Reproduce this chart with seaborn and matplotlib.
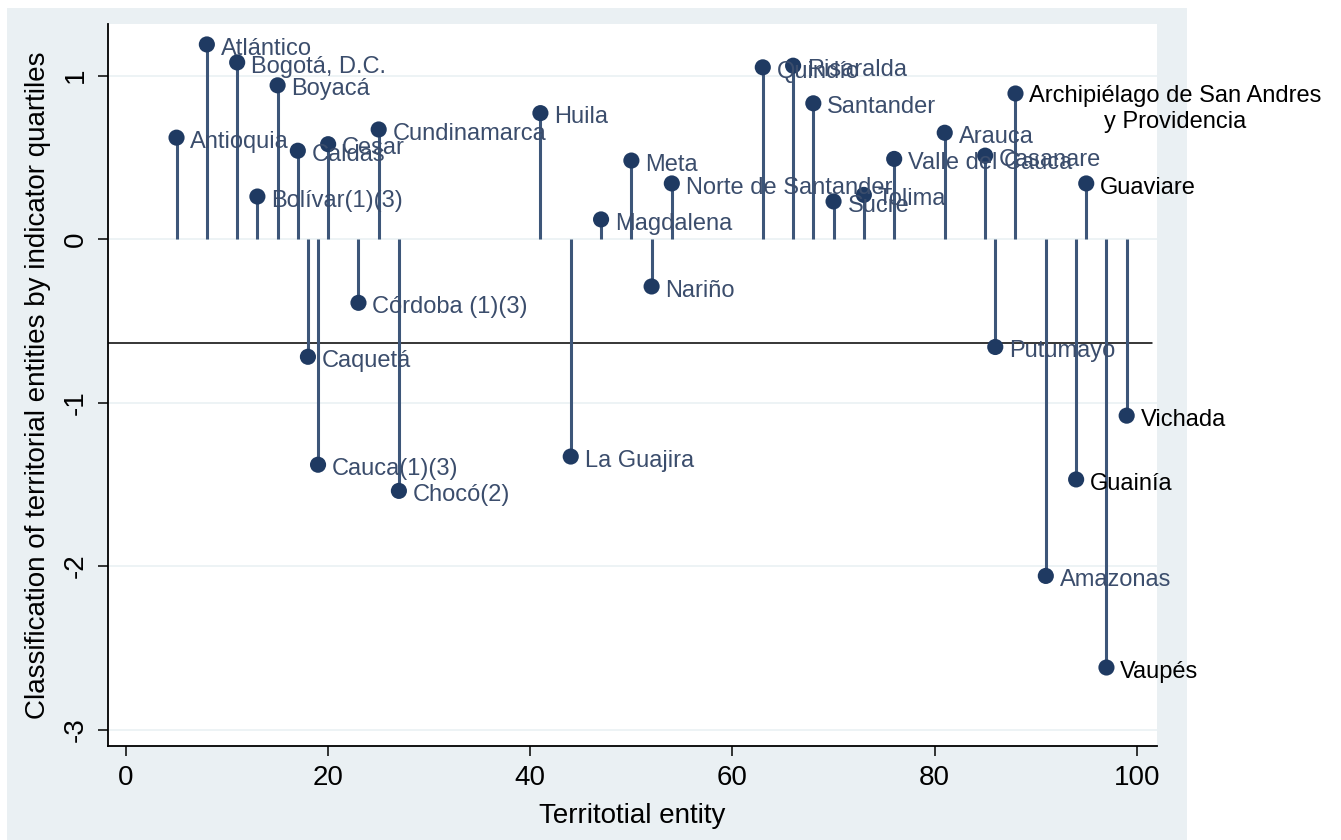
import numpy as np
import pandas as pd
import matplotlib
matplotlib.use("Agg")
import matplotlib.pyplot as plt
from matplotlib import font_manager
from matplotlib.patches import Rectangle
import seaborn as sns

# data
names = ["Antioquia", "Atlántico", "Bogotá, D.C.", "Bolívar(1)(3)", "Boyacá", "Caldas",
         "Caquetá", "Cauca(1)(3)", "Cesar", "Córdoba (1)(3)", "Cundinamarca", "Chocó(2)",
         "Huila", "La Guajira", "Magdalena", "Meta", "Nariño", "Norte de Santander",
         "Quindío", "Risaralda", "Santander", "Sucre", "Tolima", "Valle del Cauca",
         "Arauca", "Casanare", "Putumayo", "Archipiélago de San Andres\ny Providencia",
         "Amazonas", "Guainía", "Guaviare", "Vaupés", "Vichada"]
entity = [5, 8, 11, 13, 15, 17,
          18, 19, 20, 23, 25, 27,
          41, 44, 47, 50, 52, 54,
          63, 66, 68, 70, 73, 76,
          81, 85, 86, 88,
          91, 94, 95, 97, 99]
score = [0.62, 1.19, 1.08, 0.26, 0.94, 0.54,
         -0.72, -1.38, 0.58, -0.39, 0.67, -1.54,
         0.77, -1.33, 0.12, 0.48, -0.29, 0.34,
         1.05, 1.06, 0.83, 0.23, 0.27, 0.49,
         0.65, 0.51, -0.66, 0.89,
         -2.06, -1.47, 0.34, -2.62, -1.08]
ref_line = -0.636
x_ticks = [0, 20, 40, 60, 80, 100]
y_ticks = [-3, -2, -1, 0, 1]

df = pd.DataFrame({"name": names, "entity": entity, "score": score})

sns.set_theme(style="white")
avail = {f.name for f in font_manager.fontManager.ttflist}
narrow = "Liberation Sans Narrow" if "Liberation Sans Narrow" in avail else "Liberation Sans"
plt.rcParams["font.family"] = ["Liberation Sans", "DejaVu Sans"]

fig = plt.figure(figsize=(13.41, 8.4), dpi=100, facecolor="white")
fig.patches.append(Rectangle((7 / 1341, 0), 1180 / 1341, 832 / 840,
                             transform=fig.transFigure, facecolor="#eaf0f3",
                             edgecolor="none", zorder=-10))
ax = fig.add_axes([108 / 1341, 94 / 840, 1049 / 1341, 722 / 840])
ax.set_zorder(1)
ax.set_facecolor("white")

stem_col = "#3d5679"
dot_col = "#1f3a62"
lab_col = "#3b4d6c"

for yt in y_ticks:
    ax.axhline(yt, color="#eaf1f3", lw=1.2, zorder=0)

ax.vlines(df["entity"], 0, df["score"], color=stem_col, lw=2.2, zorder=2)
sns.scatterplot(data=df, x="entity", y="score", ax=ax, color=dot_col, s=135,
                edgecolor="none", zorder=3, legend=False)
ax.axhline(ref_line, xmin=0, xmax=0.995, color="black", lw=1.1, zorder=1)

black_labels = {"Guaviare", "Vichada", "Guainía", "Vaupés",
                "Archipiélago de San Andres\ny Providencia"}
for _, r in df.iterrows():
    col = "black" if r["name"] in black_labels else lab_col
    if "\n" in r["name"]:
        ax.annotate(r["name"], (r["entity"], r["score"]), xytext=(10, 6),
                    textcoords="offset points", ha="left", va="top",
                    multialignment="center", fontsize=17, color=col,
                    linespacing=1.2, annotation_clip=False, zorder=4)
    else:
        ax.annotate(r["name"], (r["entity"], r["score"]), xytext=(10, -3),
                    textcoords="offset points", ha="left", va="center",
                    fontsize=17, color=col, annotation_clip=False, zorder=4)

ax.set_xlim(-1.78, 102.0)
ax.set_ylim(-3.10, 1.315)
ax.set_xticks(x_ticks)
ax.set_yticks(y_ticks)
ax.set_xticklabels([str(t) for t in x_ticks], fontfamily=narrow, fontsize=20)
ax.set_yticklabels([str(t) for t in y_ticks], fontfamily=narrow, fontsize=20,
                   rotation=90, va="center")
ax.tick_params(axis="both", direction="out", length=7, width=1.1, color="black",
               pad=7, labelcolor="black")
ax.tick_params(axis="x", bottom=True)
ax.tick_params(axis="y", left=True)
for s in ["top", "right"]:
    ax.spines[s].set_visible(False)
for s in ["left", "bottom"]:
    ax.spines[s].set_color("black")
    ax.spines[s].set_linewidth(1.3)

ax.set_xlabel("Territotial entity", fontfamily=narrow, fontsize=20, color="black",
              labelpad=8)
ax.set_ylabel("Classification of territorial entities by indicator quartiles",
              fontfamily=narrow, fontsize=20, color="black", labelpad=8)

fig.savefig("out.png", dpi=100, facecolor="white")
